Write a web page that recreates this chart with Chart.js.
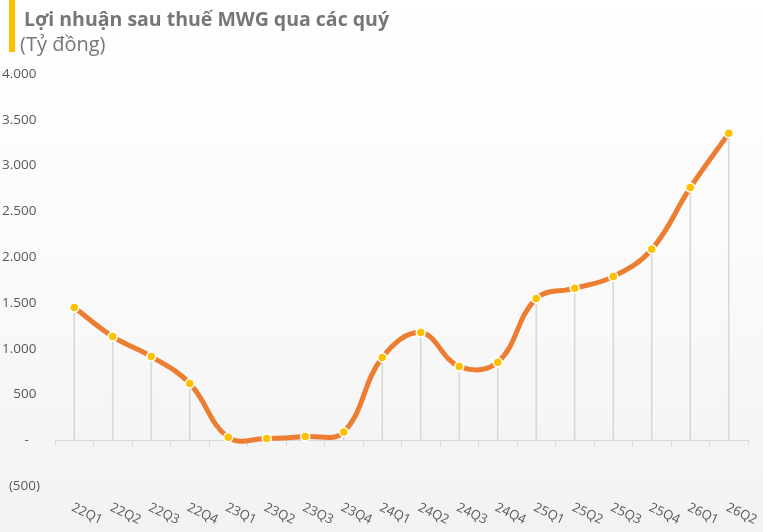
<!DOCTYPE html>
<html lang="vi">
<head>
<meta charset="utf-8">
<title>Lợi nhuận sau thuế MWG qua các quý</title>
<script src="https://cdn.jsdelivr.net/npm/chart.js@4.4.1/dist/chart.umd.min.js"></script>
<style>
  html, body { margin: 0; padding: 0; }
  body {
    width: 763px; height: 532px; overflow: hidden;
    background: linear-gradient(to bottom, #ffffff 0%, #fbfbfb 45%, #f2f2f2 100%);
    font-family: "Open Sans", sans-serif;
  }
  .wrap { position: relative; width: 763px; height: 532px; }
  .bar { position: absolute; left: 9px; top: 0; width: 6px; height: 52px; background: #ffc000; }
  .title { position: absolute; left: 24px; top: 5px; font-size: 19.5px; font-weight: bold; color: #767676; white-space: nowrap; }
  .unit { position: absolute; left: 20px; top: 30px; font-size: 20px; color: #767676; white-space: nowrap; }
</style>
</head>
<body>
<div class="wrap">
  <canvas id="ProfitChart"></canvas>
  <div class="bar"></div>
  <div class="title">Lợi nhuận sau thuế MWG qua các quý</div>
  <div class="unit">(Tỷ đồng)</div>
</div>
<script>
const quarters = ['22Q1', '22Q2', '22Q3', '22Q4', '23Q1', '23Q2', '23Q3', '23Q4', '24Q1', '24Q2', '24Q3', '24Q4', '25Q1', '25Q2', '25Q3', '25Q4', '26Q1', '26Q2'];
const profit = [1449, 1132, 914, 619, 33, 18, 40, 91, 903, 1176, 805, 852, 1547, 1659, 1787, 2085, 2759, 3352];
const yTicks = [-500, 0, 500, 1000, 1500, 2000, 2500, 3000, 3500, 4000];

// so kieu VN: 1.500, 0 -> "-", am -> (500)
const formatTick = (value) => {
    const s = String(Math.abs(value)).replace(/\B(?=(\d{3})+(?!\d))/g, '.');
    if (value < 0) return '(' + s + ')';
    if (value === 0) return '-\u2007 ';
    return s + ' ';
};

// nhan truc x nghieng xuong ben phai
const slantedLabels = {
    id: 'slantedLabels',
    afterDraw(chart) {
        const { ctx, chartArea } = chart;
        const x = chart.scales.x;
        ctx.save();
        ctx.font = '13px "Open Sans"';
        ctx.fillStyle = '#595959';
        ctx.textAlign = 'left';
        ctx.textBaseline = 'middle';
        quarters.forEach((q, i) => {
            ctx.save();
            ctx.translate(x.getPixelForValue(i) - 2, chartArea.bottom + 21);
            ctx.rotate(25 * Math.PI / 180);
            ctx.fillText(q, 0, 0);
            ctx.restore();
        });
        ctx.restore();
    }
};

const ctx = document.getElementById('ProfitChart').getContext('2d');

const ProfitChart = new Chart(ctx, {
    type: 'line',
    data: {
        labels: quarters,
        datasets: [{
            label: 'LNST',
            data: profit,
            xAxisID: 'x',
            yAxisID: 'y',
            order: 0,
            borderColor: '#ed7d31',
            borderWidth: 5,
            tension: 0.4,
            pointRadius: 4.5,
            pointBackgroundColor: '#ffc000',
            pointBorderColor: '#ffffff',
            pointBorderWidth: 1.5,
            fill: false
        },
        {
            // duong gong tu diem xuong truc 0
            type: 'bar',
            label: 'drop',
            data: profit,
            xAxisID: 'x',
            yAxisID: 'y',
            order: 1,
            backgroundColor: '#d9d9d9',
            barThickness: 1
        }]
    },
    options: {
        responsive: true,
        maintainAspectRatio: false,
        animation: false,
        layout: {
            padding: { top: 74, bottom: 46, left: 0, right: 15 }
        },
        plugins: {
            legend: { display: false },
            tooltip: { enabled: false }
        },
        scales: {
            x: {
                type: 'category',
                position: 'bottom',
                offset: true,
                grid: { display: false, drawTicks: false },
                border: { display: false },
                ticks: { display: false }
            },
            xz: {
                type: 'category',
                position: { y: 0 },
                offset: true,
                grid: {
                    offset: true,
                    drawOnChartArea: false,
                    tickLength: 5,
                    color: '#d9d9d9'
                },
                border: { color: '#d9d9d9', width: 1 },
                ticks: { display: false }
            },
            y: {
                min: -500,
                max: 4000,
                afterBuildTicks: (scale) => {
                    scale.ticks = yTicks.map(v => ({ value: v }));
                },
                afterFit: (scale) => {
                    scale.width = 55;
                },
                grid: { display: false, drawTicks: false },
                border: { display: false },
                ticks: {
                    padding: 15,
                    color: '#595959',
                    font: { family: '"Open Sans"', size: 13.5 },
                    callback: (value) => formatTick(value)
                }
            }
        }
    },
    plugins: [slantedLabels]
});
</script>
</body>
</html>
